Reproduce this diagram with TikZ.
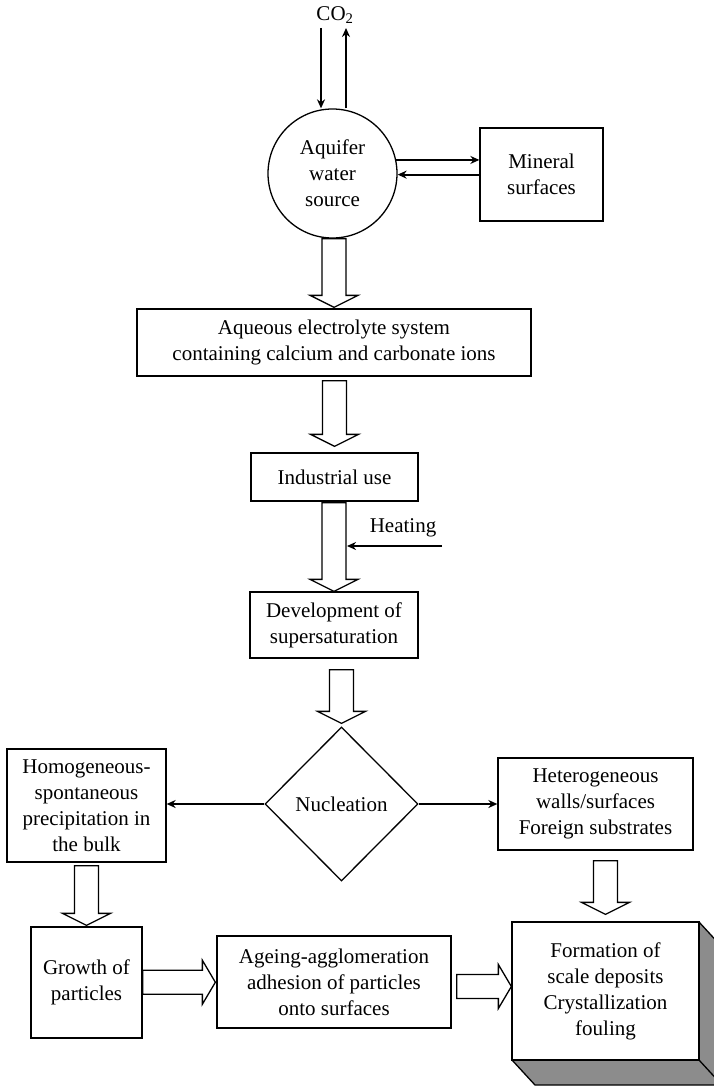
\documentclass[tikz,border=0pt]{standalone}
\usepackage{fontspec}
\setmainfont{Liberation Serif}
\usetikzlibrary{shapes.geometric,arrows.meta,calc}
\tikzset{
  txt/.style={font=\fontsize{21}{26}\selectfont, align=center, inner sep=0pt},
  box/.style={txt, draw, line width=1.3pt, fill=white},
  hollow/.style={draw, line width=1.3pt, fill=white, line join=miter},
  conn/.style={line width=1.8pt, -{Stealth[length=9pt,width=8pt]}},
}
% hollow block arrow downwards: source, target, gap below source, gap above target
\newcommand\hollowdown[4]{%
  \draw[hollow] let \p1=(#1.south), \p2=(#2.north) in
    ({\x2-12pt},{\y1-#3pt}) -- ({\x2-12pt},{\y2+#4pt+12pt}) -- ({\x2-24pt},{\y2+#4pt+12pt})
    -- ({\x2},{\y2+#4pt}) -- ({\x2+24pt},{\y2+#4pt+12pt}) -- ({\x2+12pt},{\y2+#4pt+12pt})
    -- ({\x2+12pt},{\y1-#3pt}) -- cycle;}
% hollow block arrow to the right
\newcommand\hollowright[4]{%
  \draw[hollow] let \p1=(#1.east), \p2=(#2.west) in
    ({\x1+#3pt},{(\y1+\y2)/2-12pt}) -- ({\x2-#4pt-13pt},{(\y1+\y2)/2-12pt})
    -- ({\x2-#4pt-13pt},{(\y1+\y2)/2-22pt}) -- ({\x2-#4pt},{(\y1+\y2)/2})
    -- ({\x2-#4pt-13pt},{(\y1+\y2)/2+22pt}) -- ({\x2-#4pt-13pt},{(\y1+\y2)/2+12pt})
    -- ({\x1+#3pt},{(\y1+\y2)/2+12pt}) -- cycle;}
\begin{document}
\begin{tikzpicture}[x=1pt,y=-1pt]
\useasboundingbox (0,0) rectangle (714,1086);

% nodes
\node[txt] (co2) at (335,15) {CO\textsubscript{2}};
\node[box, circle, minimum size=129pt] (circ) at (332.5,173.5) {Aquifer\\water\\source};
\node[box, minimum width=123pt, minimum height=93pt] (min) at (541.5,174.5) {Mineral\\surfaces};
\node[box, minimum width=394pt, minimum height=67pt] (aq) at (334,342.5)
  {Aqueous electrolyte system\\containing calcium and carbonate ions};
\node[box, minimum width=167pt, minimum height=48pt] (ind) at (334.5,477) {Industrial use};
\node[box, minimum width=168pt, minimum height=66pt] (dev) at (334,625) {Development of\\supersaturation};
\node[box, diamond, minimum width=153pt, minimum height=154pt] (nuc) at (341.5,804) {Nucleation};
\node[box, minimum width=159pt, minimum height=113pt] (homo) at (86.5,805.5)
  {Homogeneous-\\spontaneous\\precipitation in\\the bulk};
\node[box, minimum width=195pt, minimum height=92pt] (het) at (595.5,804)
  {Heterogeneous\\walls/surfaces\\Foreign substrates};
\node[box, minimum width=111pt, minimum height=111pt] (grow) at (86.5,982.5) {Growth of\\particles};
\node[box, minimum width=234pt, minimum height=92pt] (age) at (334,982)
  {Ageing-agglomeration\\adhesion of particles\\onto surfaces};

% 3D block behind the last box
\coordinate (fne) at (699,922);
\coordinate (fse) at (699,1060);
\coordinate (fsw) at (512,1060);
\filldraw[fill=black!45, line width=1.3pt, line join=miter]
  (fne) -- ++(23,25) -- ([shift={(23,25)}]fse) -- ([shift={(23,25)}]fsw) -- (fsw) -- cycle;
\draw[line width=1.3pt] (fse) -- ++(23,25);
\node[box, minimum width=187pt, minimum height=138pt] (form) at (605.5,991)
  {Formation of\\scale deposits\\Crystallization\\fouling};

% CO2 arrows
\coordinate (co2in) at (321,28);
\coordinate (co2out) at (346,28);
\draw[conn] (co2in) -- (co2in |- circ.north);
\draw[conn] (co2out |- circ.north) -- (co2out);

% exchange with mineral surfaces
\draw[conn] (circ.12) -- (circ.12 -| min.west);
\draw[conn] (min.west |- circ.-1) -- (circ.-1);

% heating
\coordinate (hs) at (442,546);
\coordinate (he) at (347,546);
\node[txt] (heat) at (403,528) {Heating};
\draw[conn] (hs) -- (he);

% nucleation branches
\draw[conn] (nuc.west) -- (nuc.west -| homo.east);
\draw[conn] (nuc.east) -- (nuc.east -| het.west);

% hollow block arrows
\hollowdown{circ}{aq}{0}{1}
\hollowdown{aq}{ind}{4}{6}
\hollowdown{ind}{dev}{1}{0}
\hollowdown{dev}{nuc}{11}{3}
\hollowdown{homo}{grow}{3}{1}
\hollowdown{het}{form}{10}{7}
\hollowright{grow}{age}{0}{1}
\hollowright{age}{form}{5}{0}

\end{tikzpicture}
\end{document}
